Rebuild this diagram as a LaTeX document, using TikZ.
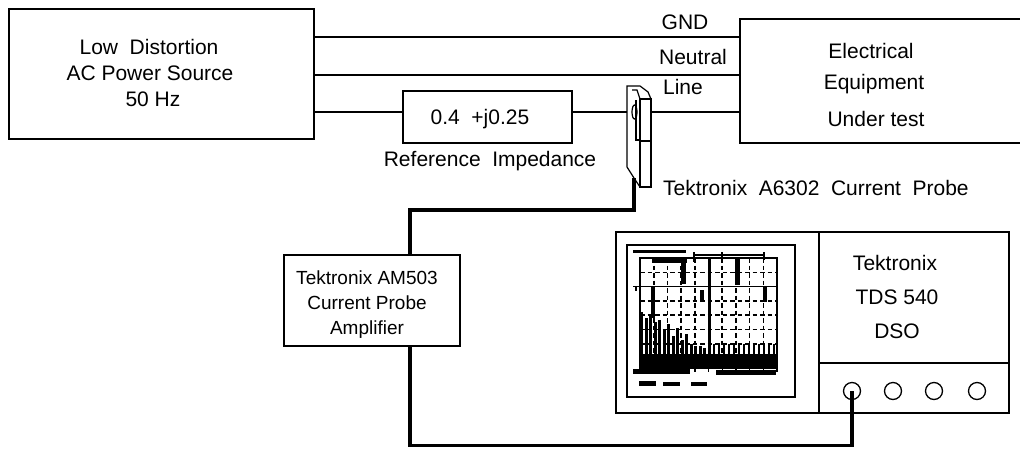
\documentclass[tikz,border=0pt]{standalone}
\usepackage{fontspec}
\setmainfont{Liberation Sans}
\newcommand\dsp{\hspace{0.55em}}
\begin{document}
\begin{tikzpicture}[x=1pt,y=-1pt,
  box/.style={draw, line width=1.3pt, inner sep=0pt, font=\fontsize{21}{25}\selectfont},
  wire/.style={line width=1.3pt},
  thickwire/.style={line width=3.6pt},
  lbl/.style={inner sep=0pt, anchor=base, font=\fontsize{21}{25}\selectfont},
  smalllbl/.style={inner sep=0pt, anchor=base, font=\fontsize{19}{23}\selectfont},
  knob/.style={circle, draw, line width=1.3pt, minimum size=17pt, inner sep=0pt},
  grat/.style={line width=1.6pt, dash pattern=on 4.5pt off 3pt}]
\useasboundingbox (0,0) rectangle (1020,448);
\clip (0,0) rectangle (1020,448);

% boxes
\node[box, minimum width=305pt, minimum height=130pt] (src) at (161.5,74) {};
\node[lbl] (src1) at (149,54) {Low\dsp Distortion};
\node[lbl] (src2) at (150,80) {AC Power Source};
\node[lbl] (src3) at (153,106) {50 Hz};

\node[box, minimum width=169pt, minimum height=52pt] (imp) at (487.5,117) {};
\node[lbl] (imptxt) at (480,124) {0.4\dsp +j0.25};
\node[lbl] (impl) at (490,166.5) {Reference\dsp Impedance};

\node[box, minimum width=300pt, minimum height=124pt] (eut) at (890,81) {};
\node[lbl] (eut1) at (871,58.3) {Electrical};
\node[lbl] (eut2) at (874,89.3) {Equipment};
\node[lbl] (eut3) at (876,126) {Under test};

\node[box, minimum width=176pt, minimum height=91pt] (amp) at (372,300.5) {};
\node[smalllbl] (amp1) at (367,284) {Tektronix AM503};
\node[smalllbl] (amp2) at (367,309.5) {Current Probe};
\node[smalllbl] (amp3) at (367,334) {Amplifier};

% power lines
\coordinate (gy) at (0,37);
\coordinate (ny) at (0,75);
\coordinate (ly) at (0,112);
\draw[wire] (src.east |- gy) -- (eut.west |- gy);
\draw[wire] (src.east |- ny) -- (eut.west |- ny);
\draw[wire] (src.east |- ly) -- (imp.west |- ly);
\draw[wire] (imp.east |- ly) -- (eut.west |- ly);
\node[lbl] (gnd) at (685,29.5) {GND};
\node[lbl] (neu) at (693,64) {Neutral};
\node[lbl] (lin) at (683,94) {Line};

% current probe
\begin{scope}[line width=1.2pt]
\draw[fill=white] (627,86) -- (640,86) -- (648,92) -- (651,99) -- (651,187) -- (640,187) -- (634,178) -- (627,167) -- cycle;
\draw[fill=white] (640,99) rectangle (651,187);
\draw (640,141) -- (651,141);
\draw (632,90) -- (637,90) -- (640,99);
\draw (634.5,112) ellipse [x radius=2.5, y radius=7];
\draw (636,100) -- (636,140) -- (640,140);
\end{scope}
\coordinate (pout) at (634,178);
\node[lbl, anchor=base west] (probel) at (663,195) {Tektronix\dsp A6302\dsp Current\dsp Probe};

% oscilloscope
\node[draw, line width=2.8pt, minimum width=393pt, minimum height=181pt, inner sep=0pt] (dso) at (812.5,322.5) {};
\node[draw, line width=1.3pt, minimum width=168pt, minimum height=152pt, inner sep=0pt] (bezel) at (711,321) {};
\draw[wire] (819,232) -- (819,413);
\draw[wire] (819,363) -- (1009,363);
\node[lbl] (dso1) at (895,270.7) {Tektronix};
\node[lbl] (dso2) at (897,304) {TDS 540};
\node[lbl] (dso3) at (897,338) {DSO};
\node[knob] (k1) at (852,391) {};
\node[knob] (k2) at (893,391) {};
\node[knob] (k3) at (934,391) {};
\node[knob] (k4) at (977,391) {};

% screen contents
\begin{scope}[line width=1.4pt]
\foreach \i in {1,...,9} { \draw[grat] (640+\i*13.7,258) -- (640+\i*13.7,368); }
\foreach \j in {1,3,4,5,6,7} { \draw[grat] (640,258+\j*14.3) -- (777,258+\j*14.3); }
\draw (640,286.6) -- (777,286.6);
\draw (633,286.6) -- (640,286.6);
\draw (636,286.6) -- (636,291);
\draw[line width=2pt] (640,258) rectangle (777,368);
\fill (707.5,258) rectangle (711,368);
\fill (652,258) rectangle (687,263);
\fill (681,258) rectangle (685.5,284);
\fill (735,258) rectangle (740,285);
\fill (651,286) rectangle (655,318);
\fill (763,286) rectangle (767,302);
\fill (700,290) rectangle (704,300);
\fill (640,354) rectangle (777,368);
\foreach \x/\t in {640/312,644.5/318,649/314,653.5/322,658/320,662.5/330,667/324,671.5/336,676/328,680.5/340,685/334,689.5/344,694/346,698.5/346,703/348}
  { \fill (\x,\t) rectangle (\x+3.3,358); }
\foreach \x in {713,718,...,775} { \fill (\x,344) rectangle (\x+2,358); }
\fill (633,249.5) rectangle (686,253);
\draw (694,255) -- (764,255);
\draw (694,252) -- (694,262);
\draw (722,252) -- (722,262);
\draw (764,252) -- (764,260);
\foreach \i in {0,...,10} { \draw (640+\i*13.7,368) -- (640+\i*13.7,372); }
\fill (633,369) rectangle (690,374);
\fill (716,370) rectangle (776,375);
\fill (639,381) rectangle (656,386);
\fill (663,382) rectangle (680,385.5);
\fill (691,382) rectangle (707,385.5);
\end{scope}

% probe cables
\draw[thickwire] (pout) -- ++(0,32) -| ([xshift=38pt]amp.north);
\draw[thickwire] ([xshift=38pt]amp.south) -- ++(0,99) -| (k1.center);
\end{tikzpicture}
\end{document}
